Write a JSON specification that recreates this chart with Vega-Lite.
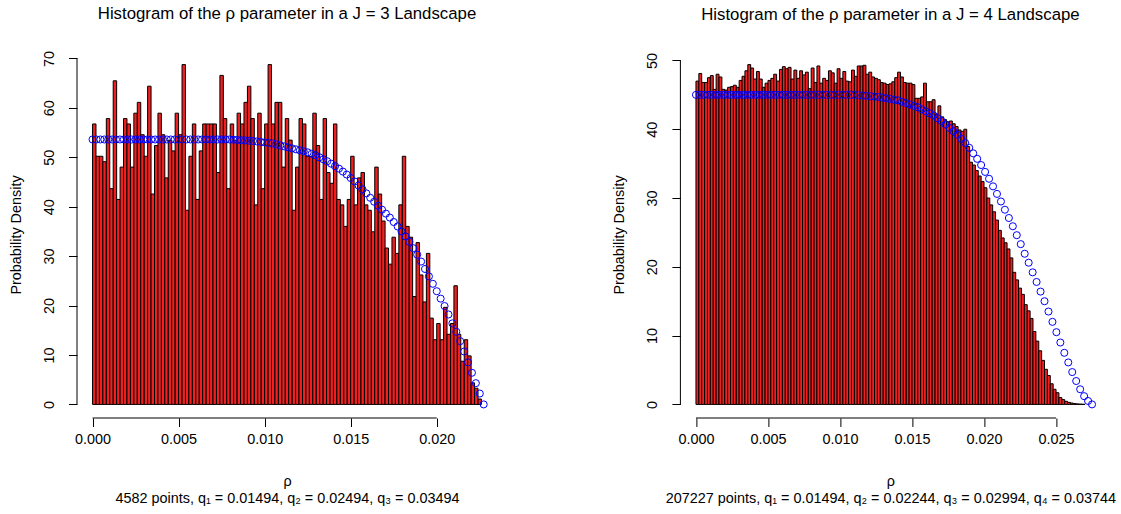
{
"$schema": "https://vega.github.io/schema/vega-lite/v6.json",
"padding": {"left": 8, "top": 5, "right": 5, "bottom": 5},
"bounds": "flush",
"spacing": 183.4,
"background": "white",
"config": {
  "view": {"stroke": null},
  "font": "Liberation Sans",
  "axis": {"domain": false, "grid": false, "ticks": true, "tickSize": 8.5, "tickColor": "black", "tickWidth": 1,
    "labelFont": "Liberation Sans", "labelFontSize": 14.4, "labelColor": "black", "labelFlush": false, "labelOverlap": false,
    "titleFont": "Liberation Sans", "titleFontSize": 14.4, "titleFontWeight": "normal", "titleColor": "black"},
  "title": {"font": "Liberation Sans", "fontSize": 16.8, "fontWeight": "normal", "color": "black", "baseline": "alphabetic", "offset": 27.7, "anchor": "middle", "frame": "group"}
},
"datasets": {
"h3": [
{"lo":0,"hi":0.0002,"d":56.74},{"lo":0.0002,"hi":0.0004,"d":50.20},{"lo":0.0004,"hi":0.0006,"d":50.20},{"lo":0.0006,"hi":0.0008,"d":49.10},{"lo":0.0008,"hi":0.001,"d":57.83},
{"lo":0.001,"hi":0.0012,"d":43.65},{"lo":0.0012,"hi":0.0014,"d":65.47},{"lo":0.0014,"hi":0.0016,"d":41.47},{"lo":0.0016,"hi":0.0018,"d":48.01},{"lo":0.0018,"hi":0.002,"d":57.83},
{"lo":0.002,"hi":0.0022,"d":56.74},{"lo":0.0022,"hi":0.0024,"d":48.01},{"lo":0.0024,"hi":0.0026,"d":58.92},{"lo":0.0026,"hi":0.0028,"d":61.11},{"lo":0.0028,"hi":0.003,"d":54.56},
{"lo":0.003,"hi":0.0032,"d":50.20},{"lo":0.0032,"hi":0.0034,"d":64.38},{"lo":0.0034,"hi":0.0036,"d":42.56},{"lo":0.0036,"hi":0.0038,"d":52.38},{"lo":0.0038,"hi":0.004,"d":58.92},
{"lo":0.004,"hi":0.0042,"d":54.56},{"lo":0.0042,"hi":0.0044,"d":45.83},{"lo":0.0044,"hi":0.0046,"d":53.47},{"lo":0.0046,"hi":0.0048,"d":51.29},{"lo":0.0048,"hi":0.005,"d":58.92},
{"lo":0.005,"hi":0.0052,"d":54.56},{"lo":0.0052,"hi":0.0054,"d":68.75},{"lo":0.0054,"hi":0.0056,"d":39.28},{"lo":0.0056,"hi":0.0058,"d":50.20},{"lo":0.0058,"hi":0.006,"d":56.74},
{"lo":0.006,"hi":0.0062,"d":41.47},{"lo":0.0062,"hi":0.0064,"d":51.29},{"lo":0.0064,"hi":0.0066,"d":56.74},{"lo":0.0066,"hi":0.0068,"d":56.74},{"lo":0.0068,"hi":0.007,"d":56.74},
{"lo":0.007,"hi":0.0072,"d":56.74},{"lo":0.0072,"hi":0.0074,"d":46.92},{"lo":0.0074,"hi":0.0076,"d":66.56},{"lo":0.0076,"hi":0.0078,"d":57.83},{"lo":0.0078,"hi":0.008,"d":43.65},
{"lo":0.008,"hi":0.0082,"d":56.74},{"lo":0.0082,"hi":0.0084,"d":53.47},{"lo":0.0084,"hi":0.0086,"d":58.92},{"lo":0.0086,"hi":0.0088,"d":56.74},{"lo":0.0088,"hi":0.009,"d":61.11},
{"lo":0.009,"hi":0.0092,"d":64.38},{"lo":0.0092,"hi":0.0094,"d":57.83},{"lo":0.0094,"hi":0.0096,"d":40.37},{"lo":0.0096,"hi":0.0098,"d":58.92},{"lo":0.0098,"hi":0.01,"d":43.65},
{"lo":0.01,"hi":0.0102,"d":56.74},{"lo":0.0102,"hi":0.0104,"d":68.75},{"lo":0.0104,"hi":0.0106,"d":56.74},{"lo":0.0106,"hi":0.0108,"d":61.11},{"lo":0.0108,"hi":0.011,"d":61.11},
{"lo":0.011,"hi":0.0112,"d":48.01},{"lo":0.0112,"hi":0.0114,"d":57.83},{"lo":0.0114,"hi":0.0116,"d":53.47},{"lo":0.0116,"hi":0.0118,"d":39.28},{"lo":0.0118,"hi":0.012,"d":48.01},
{"lo":0.012,"hi":0.0122,"d":57.83},{"lo":0.0122,"hi":0.0124,"d":56.74},{"lo":0.0124,"hi":0.0126,"d":50.20},{"lo":0.0126,"hi":0.0128,"d":50.20},{"lo":0.0128,"hi":0.013,"d":58.92},
{"lo":0.013,"hi":0.0132,"d":52.38},{"lo":0.0132,"hi":0.0134,"d":41.47},{"lo":0.0134,"hi":0.0136,"d":57.83},{"lo":0.0136,"hi":0.0138,"d":46.92},{"lo":0.0138,"hi":0.014,"d":44.74},
{"lo":0.014,"hi":0.0142,"d":56.74},{"lo":0.0142,"hi":0.0144,"d":41.47},{"lo":0.0144,"hi":0.0146,"d":40.37},{"lo":0.0146,"hi":0.0148,"d":36.01},{"lo":0.0148,"hi":0.015,"d":41.47},
{"lo":0.015,"hi":0.0152,"d":50.20},{"lo":0.0152,"hi":0.0154,"d":40.37},{"lo":0.0154,"hi":0.0156,"d":45.83},{"lo":0.0156,"hi":0.0158,"d":46.92},{"lo":0.0158,"hi":0.016,"d":40.37},
{"lo":0.016,"hi":0.0162,"d":39.28},{"lo":0.0162,"hi":0.0164,"d":34.92},{"lo":0.0164,"hi":0.0166,"d":48.01},{"lo":0.0166,"hi":0.0168,"d":42.56},{"lo":0.0168,"hi":0.017,"d":37.10},
{"lo":0.017,"hi":0.0172,"d":31.64},{"lo":0.0172,"hi":0.0174,"d":28.37},{"lo":0.0174,"hi":0.0176,"d":33.83},{"lo":0.0176,"hi":0.0178,"d":30.55},{"lo":0.0178,"hi":0.018,"d":40.37},
{"lo":0.018,"hi":0.0182,"d":50.20},{"lo":0.0182,"hi":0.0184,"d":36.01},{"lo":0.0184,"hi":0.0186,"d":33.83},{"lo":0.0186,"hi":0.0188,"d":21.82},{"lo":0.0188,"hi":0.019,"d":32.74},
{"lo":0.019,"hi":0.0192,"d":26.19},{"lo":0.0192,"hi":0.0194,"d":20.73},{"lo":0.0194,"hi":0.0196,"d":30.55},{"lo":0.0196,"hi":0.0198,"d":17.46},{"lo":0.0198,"hi":0.02,"d":13.09},
{"lo":0.02,"hi":0.0202,"d":16.37},{"lo":0.0202,"hi":0.0204,"d":13.09},{"lo":0.0204,"hi":0.0206,"d":19.64},{"lo":0.0206,"hi":0.0208,"d":14.19},{"lo":0.0208,"hi":0.021,"d":16.37},
{"lo":0.021,"hi":0.0212,"d":24.01},{"lo":0.0212,"hi":0.0214,"d":14.19},{"lo":0.0214,"hi":0.0216,"d":8.73},{"lo":0.0216,"hi":0.0218,"d":13.09},{"lo":0.0218,"hi":0.022,"d":9.82},
{"lo":0.022,"hi":0.0222,"d":4.36},{"lo":0.0222,"hi":0.0224,"d":3.27},{"lo":0.0224,"hi":0.0226,"d":1.09}
],
"c3": [
{"rho":0,"d":53.6},{"rho":0.0002273,"d":53.6},{"rho":0.0004546,"d":53.6},{"rho":0.0006819,"d":53.6},{"rho":0.0009092,"d":53.6},
{"rho":0.0011365,"d":53.6},{"rho":0.0013638,"d":53.6},{"rho":0.0015911,"d":53.6},{"rho":0.0018184,"d":53.6},{"rho":0.0020457,"d":53.6},
{"rho":0.002273,"d":53.6},{"rho":0.0025003,"d":53.6},{"rho":0.0027276,"d":53.6},{"rho":0.0029549,"d":53.6},{"rho":0.0031822,"d":53.6},
{"rho":0.0034095,"d":53.6},{"rho":0.0036368,"d":53.6},{"rho":0.0038641,"d":53.6},{"rho":0.0040914,"d":53.6},{"rho":0.0043187,"d":53.6},
{"rho":0.004546,"d":53.6},{"rho":0.0047733,"d":53.6},{"rho":0.0050006,"d":53.6},{"rho":0.0052279,"d":53.6},{"rho":0.0054552,"d":53.6},
{"rho":0.0056825,"d":53.6},{"rho":0.0059098,"d":53.6},{"rho":0.0061371,"d":53.6},{"rho":0.0063644,"d":53.6},{"rho":0.0065917,"d":53.6},
{"rho":0.006819,"d":53.6},{"rho":0.0070463,"d":53.6},{"rho":0.0072736,"d":53.6},{"rho":0.0075009,"d":53.6},{"rho":0.0077282,"d":53.6},
{"rho":0.0079555,"d":53.6},{"rho":0.0081828,"d":53.55},{"rho":0.0084101,"d":53.5},{"rho":0.0086374,"d":53.45},{"rho":0.0088647,"d":53.4},
{"rho":0.009092,"d":53.35},{"rho":0.0093193,"d":53.3},{"rho":0.0095466,"d":53.2},{"rho":0.0097739,"d":53.1},{"rho":0.0100012,"d":53.0},
{"rho":0.0102285,"d":52.9},{"rho":0.0104558,"d":52.8},{"rho":0.0106831,"d":52.6},{"rho":0.0109104,"d":52.4},{"rho":0.0111377,"d":52.2},
{"rho":0.011365,"d":52.0},{"rho":0.0115923,"d":51.8},{"rho":0.0118196,"d":51.6},{"rho":0.0120469,"d":51.4},{"rho":0.0122742,"d":51.2},
{"rho":0.0125015,"d":51.0},{"rho":0.0127288,"d":50.7},{"rho":0.0129561,"d":50.4},{"rho":0.0131834,"d":50.0},{"rho":0.0134107,"d":49.6},
{"rho":0.013638,"d":49.2},{"rho":0.0138653,"d":48.7},{"rho":0.0140926,"d":48.2},{"rho":0.0143199,"d":47.7},{"rho":0.0145472,"d":47.1},
{"rho":0.0147745,"d":46.5},{"rho":0.0150018,"d":45.8},{"rho":0.0152291,"d":45.1},{"rho":0.0154564,"d":44.3},{"rho":0.0156837,"d":43.5},
{"rho":0.015911,"d":42.7},{"rho":0.0161383,"d":41.8},{"rho":0.0163656,"d":41.0},{"rho":0.0165929,"d":40.2},{"rho":0.0168202,"d":39.4},
{"rho":0.0170475,"d":38.6},{"rho":0.0172748,"d":37.8},{"rho":0.0175021,"d":36.9},{"rho":0.0177294,"d":36.0},{"rho":0.0179567,"d":35.0},
{"rho":0.018184,"d":34.0},{"rho":0.0184113,"d":32.9},{"rho":0.0186386,"d":31.6},{"rho":0.0188659,"d":30.3},{"rho":0.0190932,"d":28.9},
{"rho":0.0193205,"d":27.4},{"rho":0.0195478,"d":25.9},{"rho":0.0197751,"d":24.4},{"rho":0.0200024,"d":22.9},{"rho":0.0202297,"d":21.4},
{"rho":0.020457,"d":19.9},{"rho":0.0206843,"d":18.2},{"rho":0.0209116,"d":16.4},{"rho":0.0211389,"d":14.7},{"rho":0.0213662,"d":12.8},
{"rho":0.0215935,"d":10.7},{"rho":0.0218208,"d":8.5},{"rho":0.0220481,"d":6.4},{"rho":0.0222754,"d":4.3},{"rho":0.0225027,"d":2.2},
{"rho":0.02273,"d":0}
],
"h4": [
{"lo":0,"hi":0.0002,"d":47.0},{"lo":0.0002,"hi":0.0004,"d":48.1},{"lo":0.0004,"hi":0.0006,"d":46.8},{"lo":0.0006,"hi":0.0008,"d":46.8},{"lo":0.0008,"hi":0.001,"d":47.5},
{"lo":0.001,"hi":0.0012,"d":47.8},{"lo":0.0012,"hi":0.0014,"d":45.8},{"lo":0.0014,"hi":0.0016,"d":48.0},{"lo":0.0016,"hi":0.0018,"d":47.6},{"lo":0.0018,"hi":0.002,"d":45.8},
{"lo":0.002,"hi":0.0022,"d":45.7},{"lo":0.0022,"hi":0.0024,"d":46.1},{"lo":0.0024,"hi":0.0026,"d":46.2},{"lo":0.0026,"hi":0.0028,"d":46.4},{"lo":0.0028,"hi":0.003,"d":46.1},
{"lo":0.003,"hi":0.0032,"d":47.1},{"lo":0.0032,"hi":0.0034,"d":47.7},{"lo":0.0034,"hi":0.0036,"d":48.5},{"lo":0.0036,"hi":0.0038,"d":49.4},{"lo":0.0038,"hi":0.004,"d":48.9},
{"lo":0.004,"hi":0.0042,"d":47.3},{"lo":0.0042,"hi":0.0044,"d":48.4},{"lo":0.0044,"hi":0.0046,"d":47.3},{"lo":0.0046,"hi":0.0048,"d":46.1},{"lo":0.0048,"hi":0.005,"d":46.7},
{"lo":0.005,"hi":0.0052,"d":47.1},{"lo":0.0052,"hi":0.0054,"d":47.4},{"lo":0.0054,"hi":0.0056,"d":48.0},{"lo":0.0056,"hi":0.0058,"d":47.0},{"lo":0.0058,"hi":0.006,"d":48.7},
{"lo":0.006,"hi":0.0062,"d":49.1},{"lo":0.0062,"hi":0.0064,"d":48.8},{"lo":0.0064,"hi":0.0066,"d":49.0},{"lo":0.0066,"hi":0.0068,"d":47.3},{"lo":0.0068,"hi":0.007,"d":48.6},
{"lo":0.007,"hi":0.0072,"d":47.4},{"lo":0.0072,"hi":0.0074,"d":48.5},{"lo":0.0074,"hi":0.0076,"d":47.9},{"lo":0.0076,"hi":0.0078,"d":48.3},{"lo":0.0078,"hi":0.008,"d":45.9},
{"lo":0.008,"hi":0.0082,"d":48.9},{"lo":0.0082,"hi":0.0084,"d":46.8},{"lo":0.0084,"hi":0.0086,"d":49.2},{"lo":0.0086,"hi":0.0088,"d":46.7},{"lo":0.0088,"hi":0.009,"d":47.4},
{"lo":0.009,"hi":0.0092,"d":47.1},{"lo":0.0092,"hi":0.0094,"d":48.5},{"lo":0.0094,"hi":0.0096,"d":48.2},{"lo":0.0096,"hi":0.0098,"d":46.7},{"lo":0.0098,"hi":0.01,"d":48.8},
{"lo":0.01,"hi":0.0102,"d":47.4},{"lo":0.0102,"hi":0.0104,"d":48.4},{"lo":0.0104,"hi":0.0106,"d":47.0},{"lo":0.0106,"hi":0.0108,"d":46.9},{"lo":0.0108,"hi":0.011,"d":48.6},
{"lo":0.011,"hi":0.0112,"d":47.7},{"lo":0.0112,"hi":0.0114,"d":49.2},{"lo":0.0114,"hi":0.0116,"d":49.2},{"lo":0.0116,"hi":0.0118,"d":49.3},{"lo":0.0118,"hi":0.012,"d":48.0},
{"lo":0.012,"hi":0.0122,"d":48.3},{"lo":0.0122,"hi":0.0124,"d":47.6},{"lo":0.0124,"hi":0.0126,"d":47.4},{"lo":0.0126,"hi":0.0128,"d":47.2},{"lo":0.0128,"hi":0.013,"d":46.8},
{"lo":0.013,"hi":0.0132,"d":46.7},{"lo":0.0132,"hi":0.0134,"d":46.5},{"lo":0.0134,"hi":0.0136,"d":46.6},{"lo":0.0136,"hi":0.0138,"d":46.9},{"lo":0.0138,"hi":0.014,"d":47.5},
{"lo":0.014,"hi":0.0142,"d":48.3},{"lo":0.0142,"hi":0.0144,"d":47.6},{"lo":0.0144,"hi":0.0146,"d":46.8},{"lo":0.0146,"hi":0.0148,"d":46.7},{"lo":0.0148,"hi":0.015,"d":46.7},
{"lo":0.015,"hi":0.0152,"d":46.5},{"lo":0.0152,"hi":0.0154,"d":44.5},{"lo":0.0154,"hi":0.0156,"d":44.5},{"lo":0.0156,"hi":0.0158,"d":44.7},{"lo":0.0158,"hi":0.016,"d":46.7},
{"lo":0.016,"hi":0.0162,"d":44.0},{"lo":0.0162,"hi":0.0164,"d":44.0},{"lo":0.0164,"hi":0.0166,"d":44.3},{"lo":0.0166,"hi":0.0168,"d":42.2},{"lo":0.0168,"hi":0.017,"d":43.4},
{"lo":0.017,"hi":0.0172,"d":41.8},{"lo":0.0172,"hi":0.0174,"d":41.4},{"lo":0.0174,"hi":0.0176,"d":41.1},{"lo":0.0176,"hi":0.0178,"d":41.2},{"lo":0.0178,"hi":0.018,"d":40.8},
{"lo":0.018,"hi":0.0182,"d":40.4},{"lo":0.0182,"hi":0.0184,"d":39.9},{"lo":0.0184,"hi":0.0186,"d":39.7},{"lo":0.0186,"hi":0.0188,"d":40.0},{"lo":0.0188,"hi":0.019,"d":37.5},
{"lo":0.019,"hi":0.0192,"d":35.2},{"lo":0.0192,"hi":0.0194,"d":34.8},{"lo":0.0194,"hi":0.0196,"d":34.0},{"lo":0.0196,"hi":0.0198,"d":33.2},{"lo":0.0198,"hi":0.02,"d":32.4},
{"lo":0.02,"hi":0.0202,"d":31.5},{"lo":0.0202,"hi":0.0204,"d":30.0},{"lo":0.0204,"hi":0.0206,"d":29.0},{"lo":0.0206,"hi":0.0208,"d":28.0},{"lo":0.0208,"hi":0.021,"d":26.8},
{"lo":0.021,"hi":0.0212,"d":25.3},{"lo":0.0212,"hi":0.0214,"d":24.2},{"lo":0.0214,"hi":0.0216,"d":23.5},{"lo":0.0216,"hi":0.0218,"d":22.6},{"lo":0.0218,"hi":0.022,"d":21.3},
{"lo":0.022,"hi":0.0222,"d":19.2},{"lo":0.0222,"hi":0.0224,"d":18.1},{"lo":0.0224,"hi":0.0226,"d":16.9},{"lo":0.0226,"hi":0.0228,"d":16.0},{"lo":0.0228,"hi":0.023,"d":14.5},
{"lo":0.023,"hi":0.0232,"d":13.6},{"lo":0.0232,"hi":0.0234,"d":12.5},{"lo":0.0234,"hi":0.0236,"d":10.6},{"lo":0.0236,"hi":0.0238,"d":9.2},{"lo":0.0238,"hi":0.024,"d":7.8},
{"lo":0.024,"hi":0.0242,"d":6.4},{"lo":0.0242,"hi":0.0244,"d":5.1},{"lo":0.0244,"hi":0.0246,"d":4.2},{"lo":0.0246,"hi":0.0248,"d":3.0},{"lo":0.0248,"hi":0.025,"d":2.2},
{"lo":0.025,"hi":0.0252,"d":1.7},{"lo":0.0252,"hi":0.0254,"d":1.0},{"lo":0.0254,"hi":0.0256,"d":0.7},{"lo":0.0256,"hi":0.0258,"d":0.45},{"lo":0.0258,"hi":0.026,"d":0.3},
{"lo":0.026,"hi":0.0262,"d":0.2},{"lo":0.0262,"hi":0.0264,"d":0.12},{"lo":0.0264,"hi":0.0266,"d":0.07},{"lo":0.0266,"hi":0.0268,"d":0.04},{"lo":0.0268,"hi":0.027,"d":0.02}
],
"c4": [
{"rho":0,"d":45.0},{"rho":0.000275,"d":45.0},{"rho":0.00055,"d":45.0},{"rho":0.000825,"d":45.0},{"rho":0.0011,"d":45.0},
{"rho":0.001375,"d":45.0},{"rho":0.00165,"d":45.0},{"rho":0.001925,"d":45.0},{"rho":0.0022,"d":45.0},{"rho":0.002475,"d":45.0},
{"rho":0.00275,"d":45.0},{"rho":0.003025,"d":45.0},{"rho":0.0033,"d":45.0},{"rho":0.003575,"d":45.0},{"rho":0.00385,"d":45.0},
{"rho":0.004125,"d":45.0},{"rho":0.0044,"d":45.0},{"rho":0.004675,"d":45.0},{"rho":0.00495,"d":45.0},{"rho":0.005225,"d":45.0},
{"rho":0.0055,"d":45.0},{"rho":0.005775,"d":45.0},{"rho":0.00605,"d":45.0},{"rho":0.006325,"d":45.0},{"rho":0.0066,"d":45.0},
{"rho":0.006875,"d":45.0},{"rho":0.00715,"d":45.0},{"rho":0.007425,"d":45.0},{"rho":0.0077,"d":45.0},{"rho":0.007975,"d":45.0},
{"rho":0.00825,"d":45.0},{"rho":0.008525,"d":45.0},{"rho":0.0088,"d":45.0},{"rho":0.009075,"d":45.0},{"rho":0.00935,"d":45.0},
{"rho":0.009625,"d":45.0},{"rho":0.0099,"d":45.0},{"rho":0.010175,"d":45.0},{"rho":0.01045,"d":45.0},{"rho":0.010725,"d":45.0},
{"rho":0.011,"d":45.0},{"rho":0.011275,"d":44.95},{"rho":0.01155,"d":44.9},{"rho":0.011825,"d":44.85},{"rho":0.0121,"d":44.8},
{"rho":0.012375,"d":44.75},{"rho":0.01265,"d":44.7},{"rho":0.012925,"d":44.6},{"rho":0.0132,"d":44.5},{"rho":0.013475,"d":44.4},
{"rho":0.01375,"d":44.3},{"rho":0.014025,"d":44.2},{"rho":0.0143,"d":44.0},{"rho":0.014575,"d":43.8},{"rho":0.01485,"d":43.6},
{"rho":0.015125,"d":43.4},{"rho":0.0154,"d":43.2},{"rho":0.015675,"d":42.9},{"rho":0.01595,"d":42.6},{"rho":0.016225,"d":42.3},
{"rho":0.0165,"d":42.0},{"rho":0.016775,"d":41.6},{"rho":0.01705,"d":41.2},{"rho":0.017325,"d":40.7},{"rho":0.0176,"d":40.2},
{"rho":0.017875,"d":39.7},{"rho":0.01815,"d":39.2},{"rho":0.018425,"d":38.6},{"rho":0.0187,"d":38.0},{"rho":0.018975,"d":37.3},
{"rho":0.01925,"d":36.5},{"rho":0.019525,"d":35.7},{"rho":0.0198,"d":34.8},{"rho":0.020075,"d":33.8},{"rho":0.02035,"d":32.8},
{"rho":0.020625,"d":31.7},{"rho":0.0209,"d":30.6},{"rho":0.021175,"d":29.5},{"rho":0.02145,"d":28.3},{"rho":0.021725,"d":27.1},
{"rho":0.022,"d":25.9},{"rho":0.022275,"d":24.6},{"rho":0.02255,"d":23.3},{"rho":0.022825,"d":21.9},{"rho":0.0231,"d":20.6},
{"rho":0.023375,"d":19.2},{"rho":0.02365,"d":17.8},{"rho":0.023925,"d":16.4},{"rho":0.0242,"d":15.0},{"rho":0.024475,"d":13.5},
{"rho":0.02475,"d":12.0},{"rho":0.025025,"d":10.5},{"rho":0.0253,"d":9.0},{"rho":0.025575,"d":7.5},{"rho":0.02585,"d":6.1},
{"rho":0.026125,"d":4.7},{"rho":0.0264,"d":3.4},{"rho":0.026675,"d":2.2},{"rho":0.02695,"d":1.2},{"rho":0.027225,"d":0.5},
{"rho":0.0275,"d":0}
]
},
"hconcat": [
{
  "width": 420, "height": 367,
  "title": {"text": "Histogram of the ρ parameter in a J = 3 Landscape"},
  "layer": [
    {"data": {"name": "h3"},
     "mark": {"type": "bar", "fill": "#f02020", "stroke": "black", "strokeWidth": 1},
     "encoding": {
       "x": {"field": "lo", "type": "quantitative", "title": ["ρ", "4582 points, q₁ = 0.01494, q₂ = 0.02494, q₃ = 0.03494"],
             "scale": {"domain": [-0.000904, 0.023504], "nice": false, "zero": false},
             "axis": {"values": [0, 0.005, 0.01, 0.015, 0.02], "format": ".3f", "labelBaseline": "alphabetic", "labelPadding": 17,
                      "titleX": 210, "titleY": 67.3, "titleAlign": "center", "titleBaseline": "alphabetic", "titleLineHeight": 17}},
       "x2": {"field": "hi"},
       "y": {"field": "d", "type": "quantitative", "title": "Probability Density",
             "scale": {"domain": [-2.75, 71.5], "nice": false, "zero": false},
             "axis": {"values": [0, 10, 20, 30, 40, 50, 60, 70], "labelAngle": -90, "labelAlign": "center", "labelBaseline": "alphabetic", "labelPadding": 15.3,
                      "titleX": -56.85, "titleY": 183.5, "titleAngle": -90, "titleAlign": "center", "titleBaseline": "alphabetic"}},
       "y2": {"datum": 0}
     }},
    {"data": {"name": "c3"},
     "mark": {"type": "point", "shape": "circle", "filled": false, "stroke": "#0000ff", "strokeWidth": 1, "size": 50, "opacity": 1},
     "encoding": {
       "x": {"field": "rho", "type": "quantitative", "title": ["ρ", "4582 points, q₁ = 0.01494, q₂ = 0.02494, q₃ = 0.03494"]},
       "y": {"field": "d", "type": "quantitative", "title": "Probability Density"}
     }},
    {"data": {"values": [{}]},
     "mark": {"type": "rule", "color": "black", "strokeWidth": 1},
     "encoding": {"x": {"datum": 0}, "x2": {"datum": 0.02}, "y": {"datum": -2.75}}},
    {"data": {"values": [{}]},
     "mark": {"type": "rule", "color": "black", "strokeWidth": 1},
     "encoding": {"x": {"datum": -0.000904}, "y": {"datum": 0}, "y2": {"datum": 70}}}
  ]
},
{
  "width": 420, "height": 367,
  "title": {"text": "Histogram of the ρ parameter in a J = 4 Landscape"},
  "layer": [
    {"data": {"name": "h4"},
     "mark": {"type": "bar", "fill": "#f02020", "stroke": "black", "strokeWidth": 1},
     "encoding": {
       "x": {"field": "lo", "type": "quantitative", "title": ["ρ", "207227 points, q₁ = 0.01494, q₂ = 0.02244, q₃ = 0.02994, q₄ = 0.03744"],
             "scale": {"domain": [-0.00108, 0.02808], "nice": false, "zero": false},
             "axis": {"values": [0, 0.005, 0.01, 0.015, 0.02, 0.025], "format": ".3f", "labelBaseline": "alphabetic", "labelPadding": 17,
                      "titleX": 210, "titleY": 67.3, "titleAlign": "center", "titleBaseline": "alphabetic", "titleLineHeight": 17}},
       "x2": {"field": "hi"},
       "y": {"field": "d", "type": "quantitative", "title": "Probability Density",
             "scale": {"domain": [-1.976, 51.376], "nice": false, "zero": false},
             "axis": {"values": [0, 10, 20, 30, 40, 50], "labelAngle": -90, "labelAlign": "center", "labelBaseline": "alphabetic", "labelPadding": 15.3,
                      "titleX": -56.85, "titleY": 183.5, "titleAngle": -90, "titleAlign": "center", "titleBaseline": "alphabetic"}},
       "y2": {"datum": 0}
     }},
    {"data": {"name": "c4"},
     "mark": {"type": "point", "shape": "circle", "filled": false, "stroke": "#0000ff", "strokeWidth": 1, "size": 50, "opacity": 1},
     "encoding": {
       "x": {"field": "rho", "type": "quantitative", "title": ["ρ", "207227 points, q₁ = 0.01494, q₂ = 0.02244, q₃ = 0.02994, q₄ = 0.03744"]},
       "y": {"field": "d", "type": "quantitative", "title": "Probability Density"}
     }},
    {"data": {"values": [{}]},
     "mark": {"type": "rule", "color": "black", "strokeWidth": 1},
     "encoding": {"x": {"datum": 0}, "x2": {"datum": 0.025}, "y": {"datum": -1.976}}},
    {"data": {"values": [{}]},
     "mark": {"type": "rule", "color": "black", "strokeWidth": 1},
     "encoding": {"x": {"datum": -0.00108}, "y": {"datum": 0}, "y2": {"datum": 50}}}
  ]
}
]
}
